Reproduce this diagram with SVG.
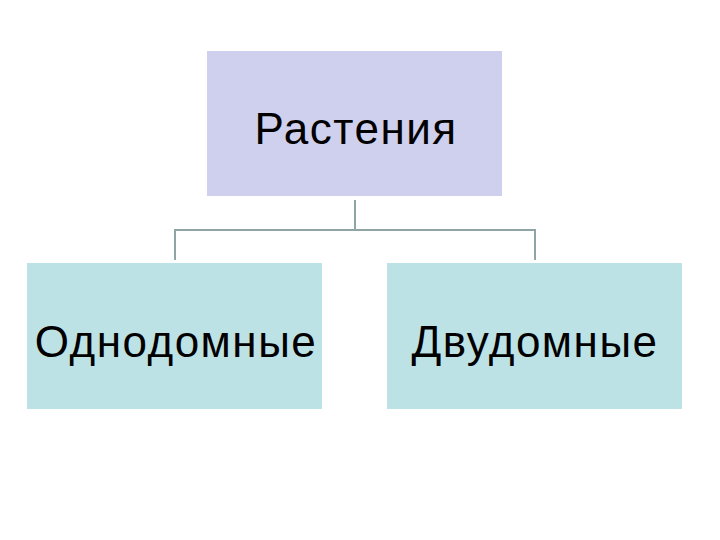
<svg xmlns="http://www.w3.org/2000/svg" width="720" height="540" viewBox="0 0 720 540">
<style>
.t{font-family:"Liberation Sans",Arial,sans-serif;font-size:44px;letter-spacing:1.5px;fill:#000;text-anchor:middle}
.c{fill:none;stroke:#8fa5a5;stroke-width:2}
</style>
<rect width="720" height="540" fill="#fff"/>
<g id="connectors"><path class="c" d="M355 200V230M175 260V230H535V260"/></g>
<g id="root"><rect x="207" y="51" width="295" height="145" fill="#cfcfee"/><text class="t" x="356" y="144">Растения</text></g>
<g id="mono"><rect x="27" y="263" width="295" height="146" fill="#bde2e6"/><text class="t" x="176" y="357">Однодомные</text></g>
<g id="dio"><rect x="387" y="263" width="295" height="146" fill="#bde2e6"/><text class="t" x="535" y="357">Двудомные</text></g>
</svg>
